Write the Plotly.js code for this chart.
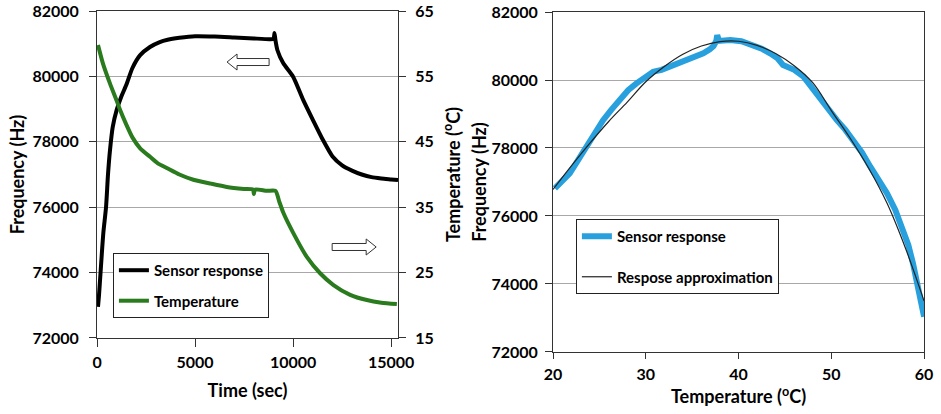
<!DOCTYPE html>
<html>
<head>
<meta charset="utf-8">
<script src="https://cdn.plot.ly/plotly-3.0.1.min.js"></script>
<style>
  html, body { margin: 0; padding: 0; background: #fff; }
  #chart { width: 941px; height: 414px; }
</style>
</head>
<body>
<div id="chart"></div>
<script>
// left panel: sensor frequency vs time
var time_sensor = [50, 100, 180, 320, 460, 560, 663, 800, 1000, 1250, 1500, 1800, 2200, 2700, 3200, 3600, 4200, 5000, 6000, 7000, 8000, 8800, 9000, 9050, 9100, 9200, 9500, 10000, 10500, 11000, 11500, 12000, 12500, 13000, 13500, 14000, 14500, 15000, 15350];
var freq_sensor = [72950, 73300, 74000, 75200, 76000, 77000, 77750, 78450, 78970, 79400, 79750, 80250, 80650, 80900, 81050, 81120, 81180, 81230, 81220, 81190, 81160, 81140, 81150, 81330, 81100, 80800, 80400, 79990, 79300, 78680, 78080, 77560, 77280, 77120, 77000, 76920, 76880, 76850, 76830];

// left panel: temperature vs time (right axis)
var time_temp = [50, 300, 663, 1000, 1173, 1500, 1820, 2200, 2704, 3100, 3554, 4200, 4915, 5800, 6616, 7500, 7950, 8000, 8050, 8657, 9100, 9300, 9507, 10017, 10698, 11377, 12057, 12908, 13759, 14500, 15289];
var temp_values = [59.8, 57.0, 53.9, 51.3, 49.9, 47.6, 45.6, 44.0, 42.7, 41.7, 41.0, 40.0, 39.2, 38.6, 38.1, 37.8, 37.7, 37.0, 37.7, 37.5, 37.5, 35.8, 34.1, 31.0, 27.4, 24.9, 23.1, 21.6, 20.8, 20.4, 20.2];

// right panel: frequency vs temperature
var temp_resp = [20.2, 20.8, 21.8, 22.7, 23.6, 24.5, 25.4, 26.3, 27.2, 28.1, 29.0, 29.9, 30.8, 31.7, 32.6, 33.5, 34.4, 35.3, 36.2, 36.9, 37.3, 37.6, 37.7, 37.9, 38.5, 39.1, 40.3, 41.6, 42.5, 43.4, 44.2, 44.8, 45.3, 46.0, 47.0, 47.9, 48.8, 49.7, 50.6, 51.5, 52.4, 53.3, 54.2, 55.1, 56.0, 56.9, 57.8, 58.3, 58.8, 59.4, 60.0];
var freq_resp = [76814, 77000, 77255, 77640, 78040, 78430, 78820, 79130, 79410, 79700, 79900, 80080, 80245, 80300, 80390, 80480, 80590, 80680, 80785, 80900, 81000, 81150, 81320, 81150, 81160, 81175, 81140, 81030, 80920, 80785, 80640, 80440, 80400, 80300, 80100, 79780, 79410, 79130, 78820, 78540, 78235, 77870, 77450, 77070, 76670, 76180, 75590, 75150, 74610, 73900, 73040];

var temp_approx = [20, 22, 24, 26, 28, 30, 32, 34, 36, 38, 40, 42, 44, 46, 48, 50, 52, 54, 56, 58, 60];
var freq_approx = [76780, 77480, 78150, 78780, 79350, 79950, 80400, 80760, 81000, 81130, 81140, 81020, 80780, 80420, 79920, 79100, 78300, 77420, 76380, 75050, 73500];

var FONT = 'Lato, "Open Sans", sans-serif';
var tickFont = {family: FONT, size: 16, color: '#000', weight: 700};
var titleFont = {family: FONT, size: 18, color: '#000', weight: 700};

var trace1 = { x: time_sensor, y: freq_sensor, mode: 'lines', name: '<b>Sensor response</b>',
               xaxis: 'x', yaxis: 'y', legend: 'legend', legendgroup: 'a',
               line: {color: '#000', width: 4, shape: 'spline', smoothing: 0.6} };
var trace2 = { x: time_temp, y: temp_values, mode: 'lines', name: '<b>Temperature</b>',
               xaxis: 'x', yaxis: 'y2', legend: 'legend', legendgroup: 'b',
               line: {color: 'rgb(42,122,30)', width: 4, shape: 'spline', smoothing: 0.6} };
var trace3 = { x: temp_resp, y: freq_resp, mode: 'lines', name: '<b>Sensor response</b>',
               xaxis: 'x2', yaxis: 'y3', legend: 'legend2', legendgroup: 'c',
               line: {color: 'rgb(40,160,222)', width: 6} };
var trace4 = { x: temp_approx, y: freq_approx, mode: 'lines', name: '<b>Respose approximation</b>',
               xaxis: 'x2', yaxis: 'y3', legend: 'legend2', legendgroup: 'd',
               line: {color: '#222', width: 1.2, shape: 'spline'} };

var data = [trace1, trace2, trace3, trace4];

var layout = {
  width: 941, height: 414,
  margin: {l: 0, r: 0, t: 0, b: 0},
  paper_bgcolor: '#fff', plot_bgcolor: '#fff',
  showlegend: true,
  xaxis: { domain: [0.1031, 0.4230], range: [0, 15350], tickvals: [0, 5000, 10000, 15000], tickformat: 'd',
           ticks: 'outside', ticklen: 8, tickcolor: '#333', showline: true, linecolor: '#333', mirror: true,
           ticklabelstandoff: 2,
           showgrid: false, zeroline: false, tickfont: tickFont, anchor: 'y',
           title: {text: 'Time (sec)', font: titleFont, standoff: 14} },
  yaxis: { domain: [0.1836, 0.9734], range: [72000, 82000], dtick: 2000, tickformat: 'd',
           ticks: 'outside', ticklen: 7, tickcolor: '#333', showline: true, linecolor: '#333',
           ticklabelstandoff: 7,
           showgrid: true, gridcolor: '#a8a8a8', zeroline: false, tickfont: tickFont, anchor: 'x',
           title: {text: 'Frequency (Hz)', font: titleFont, standoff: 3} },
  yaxis2: { overlaying: 'y', side: 'right', anchor: 'x', range: [15, 65], tick0: 15, dtick: 10,
            ticks: 'outside', ticklen: 7, tickcolor: '#333', showline: true, linecolor: '#333',
            ticklabelstandoff: 6,
            showgrid: false, zeroline: false, tickfont: tickFont,
            title: {text: 'Temperature (<sup>o</sup>C)', font: titleFont, standoff: 14} },
  xaxis2: { domain: [0.5877, 0.9820], range: [20, 60], dtick: 10, anchor: 'y3',
            ticks: 'outside', ticklen: 6, tickcolor: '#333', showline: true, linecolor: '#333', mirror: true,
            ticklabelstandoff: 2,
            showgrid: false, zeroline: false, tickfont: tickFont,
            title: {text: 'Temperature (<sup>o</sup>C)', font: titleFont, standoff: 8} },
  yaxis3: { domain: [0.1498, 0.971], range: [72000, 82000], dtick: 2000, tickformat: 'd', anchor: 'x2',
            ticks: 'outside', ticklen: 7, tickcolor: '#333', showline: true, linecolor: '#333', mirror: true,
            ticklabelstandoff: 4,
            showgrid: true, gridcolor: '#a8a8a8', zeroline: false, tickfont: tickFont,
            title: {text: 'Frequency (Hz)', font: titleFont, standoff: 0} },
  legend: { x: 0.120, y: 0.389, xanchor: 'left', yanchor: 'top', bgcolor: '#fff',
            bordercolor: '#222', borderwidth: 1, tracegroupgap: 8,
            font: {family: FONT, size: 15, color: '#000'} },
  legend2: { x: 0.612, y: 0.471, xanchor: 'left', yanchor: 'top', bgcolor: '#fff',
             bordercolor: '#222', borderwidth: 1, tracegroupgap: 18,
             font: {family: FONT, size: 15, color: '#000'} },
  shapes: [
    // hollow arrows pointing to each curve's axis
    { type: 'path', xref: 'x', yref: 'y', line: {color: '#333', width: 1}, fillcolor: '#fff',
      path: 'M 8775,80333 L 7140,80333 L 7140,80195 L 6630,80440 L 7140,80685 L 7140,80547 L 8775,80547 Z' },
    { type: 'path', xref: 'x', yref: 'y', line: {color: '#333', width: 1}, fillcolor: '#fff',
      path: 'M 11990,74676 L 13725,74676 L 13725,74538 L 14235,74783 L 13725,75028 L 13725,74890 L 11990,74890 Z' }
  ]
};

var config = {'displayModeBar': false, 'responsive': false, 'staticPlot': true};

Plotly.newPlot(document.getElementById('chart'), data, layout, config);
</script>
</body>
</html>
